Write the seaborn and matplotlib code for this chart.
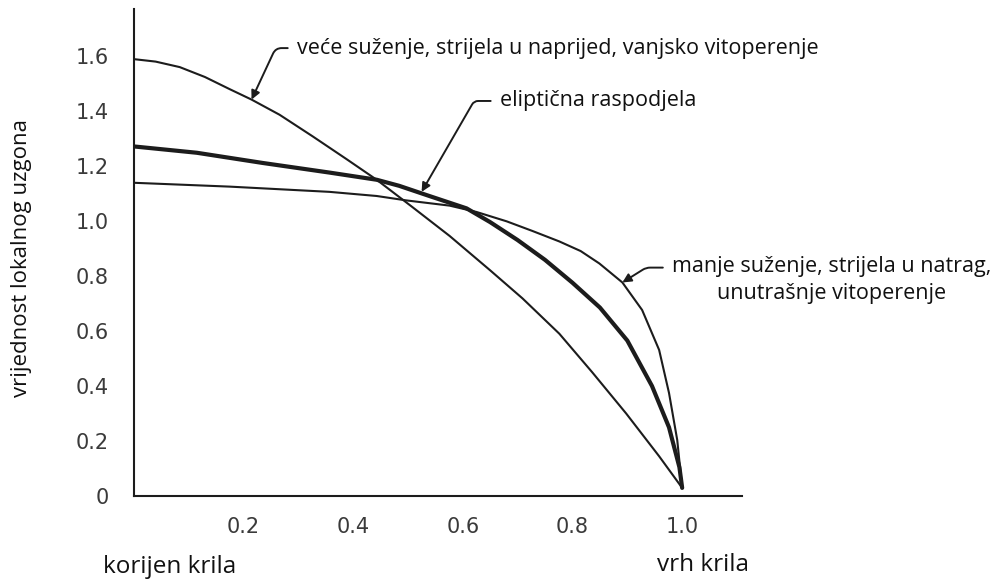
import numpy as np
import pandas as pd
import matplotlib
matplotlib.use("Agg")
import matplotlib.pyplot as plt
import seaborn as sns
from matplotlib.ticker import MultipleLocator

# vece suzenje, strijela u naprijed, vanjsko vitoperenje
x_vece = [0.0, 0.04, 0.084, 0.13, 0.175, 0.215, 0.266, 0.326, 0.388, 0.443, 0.508,
          0.576, 0.65, 0.709, 0.776, 0.836, 0.898, 0.958, 1.0]
y_vece = [1.587, 1.578, 1.558, 1.522, 1.478, 1.44, 1.385, 1.307, 1.224, 1.149, 1.05,
          0.945, 0.82, 0.718, 0.59, 0.45, 0.30, 0.145, 0.03]

# elipticna raspodjela
x_elip = [0.0, 0.115, 0.235, 0.357, 0.443, 0.484, 0.539, 0.607, 0.65, 0.7,
          0.75, 0.8, 0.85, 0.9, 0.945, 0.976, 0.995, 1.0]
y_elip = [1.27, 1.247, 1.21, 1.175, 1.149, 1.127, 1.09, 1.045, 0.995, 0.93,
          0.858, 0.775, 0.685, 0.565, 0.40, 0.25, 0.105, 0.03]

# manje suzenje, strijela u natrag, unutrasnje vitoperenje
x_manje = [0.0, 0.175, 0.357, 0.443, 0.497, 0.576, 0.625, 0.68, 0.727, 0.776,
           0.815, 0.849, 0.891, 0.927, 0.958, 0.976, 0.991, 1.0]
y_manje = [1.138, 1.124, 1.105, 1.09, 1.074, 1.055, 1.032, 0.998, 0.963, 0.925,
           0.89, 0.845, 0.776, 0.676, 0.531, 0.375, 0.204, 0.03]

x_ticks = [0.2, 0.4, 0.6, 0.8, 1.0]
y_ticks = [0, 0.2, 0.4, 0.6, 0.8, 1.0, 1.2, 1.4, 1.6]
y_tick_labels = ["0", "0.2", "0.4", "0.6", "0.8", "1.0", "1.2", "1.4", "1.6"]

sns.set_style("white")
plt.rcParams["font.family"] = ["DejaVu Sans"]

ink = "#1c1c1c"
fig = plt.figure(figsize=(9.9, 5.81), dpi=100)
ax = fig.add_axes([0.135, 0.146, 0.615, 0.839])

sns.lineplot(x=x_vece, y=y_vece, ax=ax, color=ink, lw=1.5, sort=False)
sns.lineplot(x=x_elip, y=y_elip, ax=ax, color=ink, lw=3.0, sort=False)
sns.lineplot(x=x_manje, y=y_manje, ax=ax, color=ink, lw=1.5, sort=False)

ax.set_xlim(0, 1.11)
ax.set_ylim(0, 1.77)
for s in ["top", "right"]:
    ax.spines[s].set_visible(False)
for s in ["left", "bottom"]:
    ax.spines[s].set_color(ink)
    ax.spines[s].set_linewidth(1.5)

ax.set_xticks(x_ticks)
ax.set_xticklabels([f"{v:.1f}" for v in x_ticks])
ax.xaxis.set_minor_locator(MultipleLocator(0.1))
ax.set_yticks(y_ticks)
ax.set_yticklabels(y_tick_labels)
ax.tick_params(axis="x", which="major", direction="in", length=6, width=1.3,
               color=ink, labelsize=15, pad=15, labelcolor="#3a3a3a")
ax.tick_params(axis="x", which="minor", direction="in", length=3, width=1.3, color=ink)
ax.tick_params(axis="y", direction="in", length=5, width=1.3, color=ink,
               labelsize=15, pad=18, labelcolor="#3a3a3a")

txt = dict(family=["Open Sans", "DejaVu Sans"], color="#111111")
arrow = dict(arrowstyle="-|>", color=ink, lw=1.4, mutation_scale=13, shrinkA=4, shrinkB=0)

ax.annotate("veće suženje, strijela u naprijed, vanjsko vitoperenje",
            xy=(0.215, 1.44), xytext=(0.297, 1.627), fontsize=15.5, ha="left", va="center",
            arrowprops=dict(arrow, connectionstyle="angle,angleA=0,angleB=65,rad=6",
                            relpos=(0, 0.5)), **txt)
ax.annotate("eliptična raspodjela",
            xy=(0.525, 1.105), xytext=(0.667, 1.435), fontsize=15.5, ha="left", va="center",
            arrowprops=dict(arrow, connectionstyle="angle,angleA=0,angleB=60,rad=4",
                            relpos=(0, 0.5)), **txt)
ax.annotate("manje suženje, strijela u natrag,\nunutrašnje vitoperenje",
            xy=(0.891, 0.776), xytext=(1.272, 0.785), fontsize=15.5, ha="center",
            va="center", multialignment="center", linespacing=1.35,
            arrowprops=dict(arrow, connectionstyle="angle,angleA=0,angleB=32,rad=4",
                            relpos=(0, 0.76)), **txt)

fig.text(22 / 990, 1 - 258 / 581, "vrijednost lokalnog uzgona", rotation=90,
         fontsize=16, ha="center", va="center", **txt)
fig.text(103 / 990, 1 - 567 / 581, "korijen krila", fontsize=17.5, ha="left", va="center", **txt)
fig.text(657 / 990, 1 - 565 / 581, "vrh krila", fontsize=17.5, ha="left", va="center", **txt)

fig.savefig("out.png", dpi=100, facecolor="white")
